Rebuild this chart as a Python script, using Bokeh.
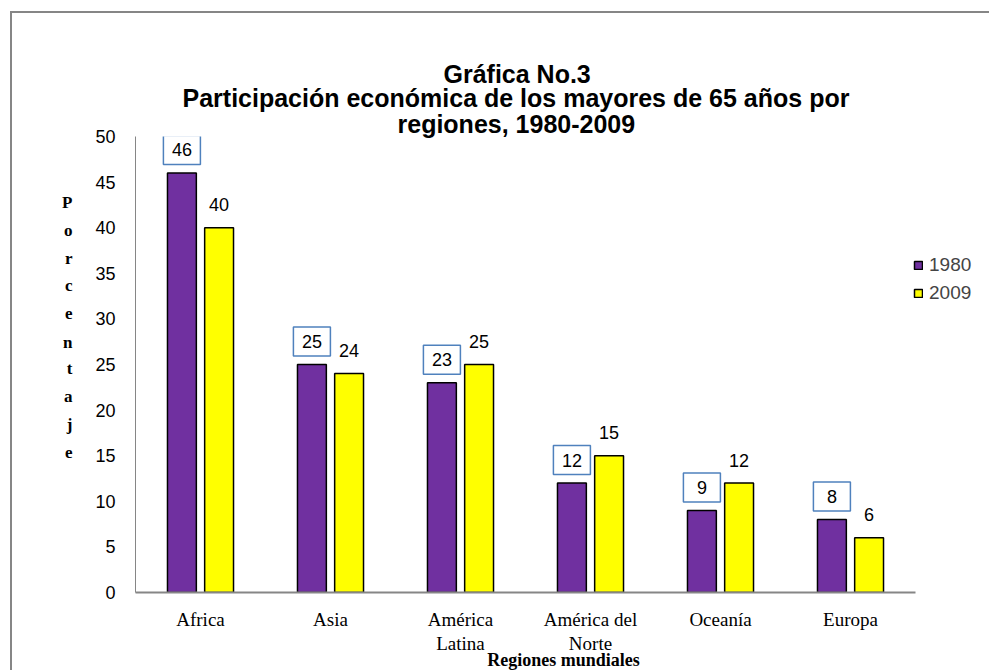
from bokeh.plotting import figure
from bokeh.models import (ColumnDataSource, Range1d, LabelSet, Legend, LegendItem,
                          FixedTicker, LinearAxis, Title)
from bokeh.transform import dodge
from bokeh.core.properties import value
from bokeh.embed import file_html
from bokeh.resources import INLINE

# ---------------- data ----------------
regions = ["Africa", "Asia", "América Latina", "América del Norte", "Oceanía", "Europa"]
region_line1 = ["Africa", "Asia", "América", "América del", "Oceanía", "Europa"]
region_line2 = ["", "", "Latina", "Norte", "", ""]
years = ["1980", "2009"]
values_1980 = [46, 25, 23, 12, 9, 8]
values_2009 = [40, 24, 25, 15, 12, 6]
y_ticks = [0, 5, 10, 15, 20, 25, 30, 35, 40, 45, 50]
title_lines = ["Gráfica No.3",
               "Participación económica de los mayores de 65 años por",
               "regiones, 1980-2009"]
y_title = "Porcentaje"
x_title = "Regiones mundiales"

PURPLE = "#7030A0"
YELLOW = "#FFFF00"
SANS = "Liberation Sans"
SERIF = "Liberation Serif"

idx = list(range(len(regions)))
src = ColumnDataSource(dict(
    idx=idx,
    region=regions,
    v1980=values_1980,
    v2009=values_2009,
    t1980=[str(v) for v in values_1980],
    t2009=[str(v) for v in values_2009],
))

# ---------------- layout constants (pixels) ----------------
W, H = 979, 659
BL, BT, BR, BB = 123, 123, 0, 79
FRAME_W = W - BL - BR
FRAME_H = H - BT - BB
CAT_PX = 130                      # width of one category slot
Y_MAX = 50
X_START = -0.5
X_END = X_START + FRAME_W / CAT_PX
LABEL_DY = 23                     # px above bar top
LABEL_DY_DATA = LABEL_DY * Y_MAX / FRAME_H

p = figure(x_range=Range1d(X_START, X_END), y_range=Range1d(0, Y_MAX),
           width=W, height=H, margin=(13, 0, 0, 12),
           output_backend="svg", toolbar_location=None,
           min_border_left=BL, min_border_right=BR,
           min_border_top=BT, min_border_bottom=BB)
p.styles = {"box-shadow": "-2px -2px 0 0 #868686"}
p.outline_line_color = None
p.xgrid.visible = False
p.ygrid.visible = False
p.background_fill_color = "white"
p.border_fill_color = "white"

OFF = 0.143
BW = 0.222
r1 = p.vbar(x=dodge("idx", -OFF), top="v1980", width=BW,
            source=src, fill_color=PURPLE, line_color="black", line_width=1.5)
r2 = p.vbar(x=dodge("idx", OFF), top="v2009", width=BW,
            source=src, fill_color=YELLOW, line_color="black", line_width=1.5)

# ---- y axis
p.yaxis.ticker = FixedTicker(ticks=y_ticks)
p.yaxis.axis_line_color = "#868686"
p.yaxis.axis_line_width = 1
p.yaxis.major_tick_line_color = None
p.yaxis.minor_tick_line_color = None
p.yaxis.major_tick_out = 0
p.yaxis.major_tick_in = 0
p.yaxis.major_label_standoff = 20
p.yaxis.major_label_text_font = SANS
p.yaxis.major_label_text_font_size = "18px"
p.yaxis.major_label_text_color = "black"

# stacked letters of the y title, as an outer label-only axis
letter_pos = [391, 363, 335, 308, 280, 251, 224, 196, 168, 140]
p.extra_y_ranges = {"letters": Range1d(0, FRAME_H)}
ax_letters = LinearAxis(y_range_name="letters",
                        ticker=FixedTicker(ticks=letter_pos),
                        major_label_overrides={pos: ch for pos, ch in zip(letter_pos, y_title)},
                        axis_line_color=None, major_tick_line_color=None,
                        minor_tick_line_color=None, major_tick_out=0, major_tick_in=0,
                        major_label_standoff=20,
                        major_label_text_font=SERIF, major_label_text_font_size="17px",
                        major_label_text_font_style="bold", major_label_text_color="black",
                        major_label_text_align="center")
p.add_layout(ax_letters, "left")

# ---- x axis (two label lines + title)
x_bounds = (X_START, len(regions) - 0.5)
p.xaxis.ticker = FixedTicker(ticks=idx)
p.xaxis.bounds = x_bounds
p.xaxis.axis_line_color = "#868686"
p.xaxis.axis_line_width = 2
p.xaxis.major_tick_line_color = None
p.xaxis.minor_tick_line_color = None
p.xaxis.major_tick_out = 0
p.xaxis.major_tick_in = 0
p.xaxis.major_label_standoff = 16
p.xaxis.major_label_overrides = dict(zip(idx, region_line1))
p.xaxis.major_label_text_font = SERIF
p.xaxis.major_label_text_font_size = "19px"
p.xaxis.major_label_text_color = "black"

ax2 = LinearAxis(ticker=FixedTicker(ticks=idx), bounds=x_bounds,
                 axis_line_color=None, major_tick_line_color=None,
                 minor_tick_line_color=None, major_tick_out=0, major_tick_in=0,
                 major_label_standoff=0,
                 major_label_overrides=dict(zip(idx, region_line2)),
                 major_label_text_font=SERIF, major_label_text_font_size="19px",
                 major_label_text_color="black",
                 axis_label=x_title, axis_label_standoff=-7,
                 axis_label_text_font=SERIF, axis_label_text_font_size="18px",
                 axis_label_text_font_style="bold", axis_label_text_color="black")
p.add_layout(ax2, "below")

# ---- data labels 1980 (boxed)
p.rect(x=dodge("idx", -OFF), y=dodge("v1980", LABEL_DY_DATA),
       width=37, height=29, width_units="screen", height_units="screen",
       source=src, fill_color="white", line_color="#4F81BD", line_width=1.5)
p.add_layout(LabelSet(x=dodge("idx", -OFF), y="v1980", text="t1980",
                      source=src, y_offset=LABEL_DY, text_align="center",
                      text_baseline="middle",
                      text_font=value(SANS), text_font_size=value("18px"),
                      text_color="black"))

# ---- data labels 2009
p.add_layout(LabelSet(x=dodge("idx", OFF), y="v2009", text="t2009",
                      source=src, y_offset=LABEL_DY, text_align="center",
                      text_baseline="middle",
                      text_font=value(SANS), text_font_size=value("18px"),
                      text_color="black"))

# ---- legend (inside the extended frame, right of the last category)
legend = Legend(items=[LegendItem(label=years[0], renderers=[r1]),
                       LegendItem(label=years[1], renderers=[r2])],
                location=(778, 288), orientation="vertical",
                glyph_width=10, glyph_height=10, label_standoff=6,
                label_text_font=SANS, label_text_font_size="19px",
                label_height=20, spacing=6, padding=0, margin=0,
                border_line_color=None, background_fill_alpha=0)
p.add_layout(legend)

# ---- title lines (innermost first); left-aligned with offsets so that
# each line is centred at about x=516 on the page
TITLE_SIZE = "25px"
def style_title(t, offset, standoff):
    t.align = "left"
    t.offset = offset
    t.standoff = standoff
    t.text_font = SANS
    t.text_font_size = TITLE_SIZE
    t.text_font_style = "bold"
    t.text_color = "black"
    return t

p.add_layout(style_title(Title(text=title_lines[2]), 262, -2), "above")
p.add_layout(style_title(Title(text=title_lines[1]), 47, -6), "above")
p.title.text = title_lines[0]
style_title(p.title, 308, -6)

open("out.html", "w").write(file_html(p, INLINE))
